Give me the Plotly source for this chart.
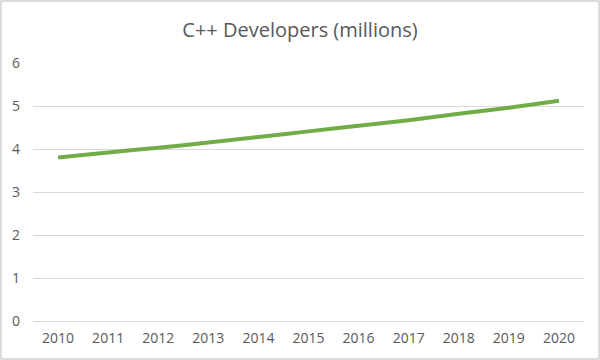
import plotly.graph_objects as go

years = ["2010", "2011", "2012", "2013", "2014", "2015", "2016", "2017", "2018", "2019", "2020"]
developers = [3.80, 3.92, 4.03, 4.15, 4.28, 4.41, 4.54, 4.67, 4.82, 4.96, 5.12]
y_ticks = [0, 1, 2, 3, 4, 5, 6]

W, H = 600, 360
ml, mr, mt, mb = 33, 16, 63, 39
pw, ph = W - ml - mr, H - mt - mb

fig = go.Figure()
fig.add_trace(go.Scatter(
    x=years, y=developers, mode="lines",
    line=dict(color="#70AD47", width=4, shape="spline", smoothing=0.6),
    hoverinfo="x+y", showlegend=False,
))

fig.update_layout(
    width=W, height=H,
    margin=dict(l=ml, r=mr, t=mt, b=mb),
    paper_bgcolor="white", plot_bgcolor="white",
    title=dict(text="C++ Developers (millions)", x=0.5, xanchor="center",
               y=1 - 30 / H, yanchor="middle",
               font=dict(family="Open Sans, sans-serif", size=20, color="#595959")),
    font=dict(family="Open Sans, sans-serif", size=14, color="#595959"),
    xaxis=dict(type="category", range=[-0.5, 10.5], showgrid=False, showline=False,
               zeroline=False, ticks="", ticklabelstandoff=7,
               tickfont=dict(size=14, color="#595959")),
    yaxis=dict(range=[0, 6], tickvals=y_ticks, showgrid=True, gridcolor="#d9d9d9",
               gridwidth=1, zeroline=True, zerolinecolor="#d9d9d9", zerolinewidth=1,
               showline=False, ticks="", ticklabelstandoff=12,
               tickfont=dict(size=14, color="#595959")),
    shapes=[dict(type="rect", xref="paper", yref="paper",
                 x0=-(ml - 1) / pw, x1=1 + (mr - 1) / pw,
                 y0=-(mb - 1) / ph, y1=1 + (mt - 1) / ph,
                 line=dict(color="#d0d0d0", width=1.5), layer="above")],
)

fig.write_html("out.html", config={"displayModeBar": False},
               post_script="document.body.style.margin='0';document.body.style.overflow='hidden';")
